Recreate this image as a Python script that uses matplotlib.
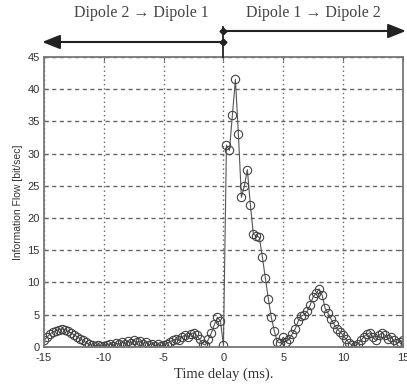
"""
Information flow between two dipoles vs. time delay
"""

import matplotlib
matplotlib.use('Agg')
import matplotlib.pyplot as plt
import matplotlib.transforms as mtransforms
from matplotlib.patches import FancyArrowPatch
import numpy as np

plt.rcParams['axes.unicode_minus'] = False

# time delay in ms (0.25 ms steps)
delay = np.arange(-15, 15.01, 0.25)

# information flow [bit/sec]
flow_neg = [1.0, 1.5, 2.0, 2.3, 2.5, 2.7, 2.8, 2.7, 2.4, 2.2, 1.9, 1.6, 1.3, 1.0, 0.7, 0.4, 0.3, 0.2, 0.3, 0.2,   # -15 .. -10.25
            0.1, 0.3, 0.5, 0.2, 0.6, 0.4, 0.8, 0.5, 0.9, 0.6, 1.0, 0.7, 0.9, 0.5, 0.8, 0.3, 0.5, 0.2, 0.4, 0.1,   # -10 .. -5.25
            0.3, 0.5, 0.8, 1.0, 1.2, 1.0, 1.5, 1.8, 1.5, 2.0, 2.2, 1.8, 1.2, 0.5, 0.3, 1.2, 2.2, 3.5, 4.6, 4.0]   # -5 .. -0.25
flow_pos = [0.3, 31.3, 30.5, 36.0, 41.5, 33.0, 23.2, 25.0, 27.5, 22.0, 17.5, 17.2, 17.0, 14.0, 10.7, 7.5,    # 0 .. 3.75
            4.6, 2.5, 0.8, 0.6, 1.5, 0.8, 1.2, 2.0, 2.8, 4.0, 4.8, 5.0, 5.5, 6.5, 7.8, 8.3,                  # 4 .. 7.75
            9.0, 8.0, 6.0, 5.2, 4.3, 3.5, 2.8, 2.3, 1.8, 1.2, 0.6, 0.3, 0.2, 0.5, 1.0, 1.6,                  # 8 .. 11.75
            2.0, 2.2, 1.5, 1.0, 1.8, 2.2, 1.8, 1.2, 1.5, 1.0, 0.6, 0.8, 1.0]                                 # 12 .. 15
flow = np.array(flow_neg + flow_pos)

xticks = [-15, -10, -5, 0, 5, 10, 15]
yticks = list(range(0, 46, 5))

def main():
	fig = plt.figure(figsize=(4.07, 3.92), dpi=100)
	ax = fig.add_axes([0.108, 0.115, 0.882, 0.740])

	# data curve
	ax.plot(delay, flow, '-', color='#555555', lw=0.8,
	        marker='o', markersize=6, markerfacecolor='none',
	        markeredgecolor='#444444', markeredgewidth=0.8)

	ax.set_xlim(-15, 15)
	ax.set_ylim(0, 45)
	ax.set_xticks(xticks)
	ax.set_yticks(yticks)

	# grid: dotted vertical, dashed horizontal
	ax.xaxis.grid(True, linestyle=(0, (1, 2.2)), color='#666666', lw=1.0)
	ax.yaxis.grid(True, linestyle=(0, (3, 2.5)), color='#666666', lw=1.0)
	ax.set_axisbelow(True)

	for s in ax.spines.values():
		s.set_color('#777777')
		s.set_linewidth(1.3)
	ax.tick_params(direction='in', length=3, color='#666666', top=True, right=True,
	               labelsize=8, labelcolor='#333333')
	ax.tick_params(axis='x', pad=4.5)
	ax.tick_params(axis='y', pad=3)
	for lbl in ax.get_xticklabels() + ax.get_yticklabels():
		lbl.set_family('Liberation Sans')

	ax.set_xlabel('Time delay (ms).', family='Liberation Serif', fontsize=10.5,
	              color='#333333', labelpad=3)
	ax.set_ylabel('Information Flow [bit/sec]', family='Liberation Sans', fontsize=7.5,
	              color='#333333', labelpad=3)

	# direction arrows above the axes
	trans = mtransforms.blended_transform_factory(ax.transData, fig.transFigure)
	y_top = 1 - 31 / 392
	y_bot = 1 - 42 / 392
	head = '-|>,head_length=0.9,head_width=0.36'
	fig.add_artist(FancyArrowPatch((0, y_top), (15.25, y_top), transform=trans,
	                               arrowstyle=head, mutation_scale=12, color='#222222',
	                               lw=1.5, shrinkA=0, shrinkB=0, clip_on=False))
	fig.add_artist(FancyArrowPatch((0, y_bot), (-15.15, y_bot), transform=trans,
	                               arrowstyle=head, mutation_scale=12, color='#222222',
	                               lw=1.5, shrinkA=0, shrinkB=0, clip_on=False))
	fig.add_artist(plt.Line2D([0, 0], [1 - 27 / 392, 0.855], transform=trans,
	                          color='#222222', lw=1.3))
	fig.add_artist(plt.Line2D([0, 0], [y_top, y_bot], transform=trans, ls='none',
	                          marker='D', markersize=3.5, color='#222222'))

	fig.text(-6.9, 1 - 13 / 392, 'Dipole 2 \u2192 Dipole 1', transform=trans,
	         ha='center', va='center', family='Liberation Serif', fontsize=11.5,
	         color='#444444')
	fig.text(7.5, 1 - 13 / 392, 'Dipole 1 \u2192 Dipole 2', transform=trans,
	         ha='center', va='center', family='Liberation Serif', fontsize=11.5,
	         color='#444444')

	fig.savefig('out.png', dpi=100, facecolor='white')

if __name__ == '__main__':
	main()
